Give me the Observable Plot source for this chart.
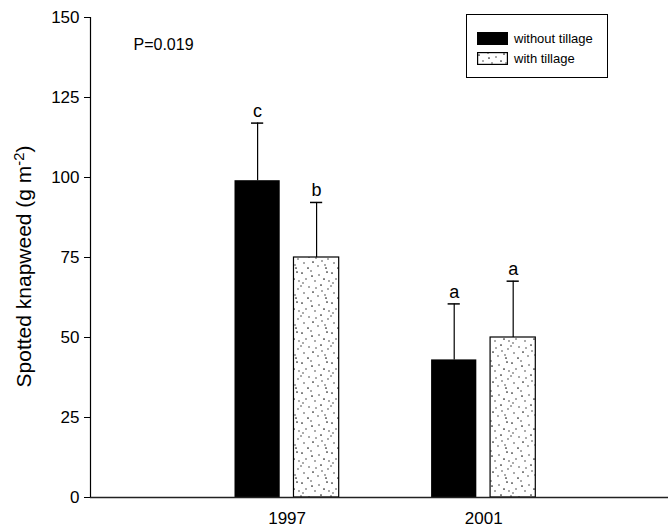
<!DOCTYPE html>
<html>
<head>
<meta charset="utf-8">
<script src="https://cdn.jsdelivr.net/npm/d3@7"></script>
<script src="https://cdn.jsdelivr.net/npm/@observablehq/plot@0.6"></script>
<style>
  body { margin: 0; background: #fff; }
  #wrap { position: relative; width: 668px; height: 527px; font-family: "Liberation Sans", Arial, sans-serif; }
  #legend { position: absolute; left: 466px; top: 14px; width: 142px; height: 64px; box-sizing: border-box;
            border: 1px solid #000; background: #fff; }
  .item { position: absolute; left: 10px; display: flex; align-items: center; font-size: 13px; color: #000; }
  .item svg { margin-right: 6px; display: block; }
</style>
</head>
<body>
<div id="wrap">
  <div id="chart"></div>
  <div id="legend"></div>
</div>
<script>
// ---- data ----
const years = ["1997", "2001"];
const treatments = ["without tillage", "with tillage"];
const meanWithout = [99, 43];
const meanWith = [75, 50];
const seWithout = [18, 17.5];
const seWith = [17.2, 17.6];
const lettersWithout = ["c", "a"];
const lettersWith = ["b", "a"];
const yTicks = [0, 25, 50, 75, 100, 125, 150];
const pLabel = "P=0.019";
const yLabel = "Spotted knapweed (g m-2)";

// ---- table ----
const rows = [];
years.forEach((yr, i) => {
  rows.push({year: yr, pos: i + 1, side: 0, treatment: treatments[0], mean: meanWithout[i], se: seWithout[i], letter: lettersWithout[i]});
  rows.push({year: yr, pos: i + 1, side: 1, treatment: treatments[1], mean: meanWith[i], se: seWith[i], letter: lettersWith[i]});
});
// layout within a group (x data units)
const outer = 0.265, inner = 0.035, cap = 0.031;
const x1 = d => d.side === 0 ? d.pos - outer : d.pos + inner;
const x2 = d => d.side === 0 ? d.pos - inner : d.pos + outer;
const xc = d => (x1(d) + x2(d)) / 2;

const plot = Plot.plot({
  width: 668,
  height: 527,
  marginLeft: 90,
  marginRight: 0,
  marginTop: 17,
  marginBottom: 30,
  style: {fontFamily: "'Liberation Sans', Arial, sans-serif", background: "#fff", color: "#000"},
  x: {domain: [0, 2.94], axis: null},
  y: {domain: [0, 150], axis: null},
  marks: [
    Plot.rectY(rows.filter(d => d.side === 0), {x1, x2, y1: 0, y2: "mean", fill: "black"}),
    Plot.rectY(rows.filter(d => d.side === 1), {x1, x2, y1: 0, y2: "mean", fill: "#fefefe", stroke: "black", strokeWidth: 1.2}),
    Plot.ruleX(rows, {x: xc, y1: "mean", y2: d => d.mean + d.se, stroke: "black", strokeWidth: 1.2}),
    Plot.ruleY(rows, {y: d => d.mean + d.se, x1: d => xc(d) - cap, x2: d => xc(d) + cap, stroke: "black", strokeWidth: 1.5}),
    Plot.text(rows, {x: xc, y: d => d.mean + d.se, text: "letter", dy: -12, fontSize: 18, fill: "black"}),
    Plot.ruleY([0], {stroke: "#222", strokeWidth: 1.6}),
    Plot.ruleX([0], {y1: 0, y2: 150, stroke: "black", strokeWidth: 1.2}),
    Plot.axisY({ticks: yTicks, tickSize: 6, tickPadding: 5, fontSize: 17, label: null}),
    Plot.axisX({ticks: years.map((y, i) => i + 1), tickFormat: v => years[v - 1], tickSize: 0, tickPadding: 14, fontSize: 17, label: null}),
    Plot.text([pLabel], {frameAnchor: "top-left", text: d => d, dx: 43, dy: 21, textAnchor: "start", fontSize: 16, fill: "black"}),
    Plot.text([yLabel], {frameAnchor: "left", text: d => d, dx: -66, dy: 9, rotate: -90, textAnchor: "middle", fontSize: 21, fill: "black"})
  ]
});

document.getElementById("chart").appendChild(plot);
const svg = d3.select(plot);

// stipple pattern (irregular dots in a larger tile)
const defs = svg.insert("defs", ":first-child");
function addPattern(defsSel, id) {
  const p = defsSel.append("pattern").attr("id", id).attr("patternUnits", "userSpaceOnUse")
    .attr("width", 30).attr("height", 30);
  p.append("rect").attr("width", 30).attr("height", 30).attr("fill", "white");
  const dots = [[2,3],[11,1],[19,5],[27,2],[6,9],[15,11],[24,9],[1,16],[9,17],[21,15],
                [28,19],[4,23],[13,22],[18,26],[25,25],[8,28],[16,18],[29,11],[12,6],[22,21],
                [3,13],[26,28]];
  dots.forEach(([cx, cy], k) => p.append("circle").attr("cx", cx).attr("cy", cy)
    .attr("r", k % 3 === 0 ? 0.85 : 0.7).attr("fill", "#1a1a1a"));
}
addPattern(defs, "stipple");
svg.selectAll("g").filter(function () { return this.getAttribute("fill") === "#fefefe"; })
  .attr("fill", "url(#stipple)")
  .selectAll("rect").attr("fill", "url(#stipple)");

// superscript in y label
const yl = svg.selectAll("text").filter(function () { return this.textContent === yLabel; });
yl.text(null);
yl.append("tspan").text("Spotted knapweed (g m");
yl.append("tspan").attr("dy", "-0.5em").attr("font-size", "0.7em").text("-2");
yl.append("tspan").attr("dy", "0.35em").text(")");

// legend
const legend = d3.select("#legend");
treatments.forEach((t, i) => {
  const item = legend.append("div").attr("class", "item").style("top", (i === 0 ? 16 : 36) + "px");
  const s = item.append("svg").attr("width", 31).attr("height", 13);
  if (i === 0) {
    s.append("rect").attr("width", 31).attr("height", 13).attr("fill", "black");
  } else {
    addPattern(s.append("defs"), "stipple-legend");
    s.append("rect").attr("x", 0.6).attr("y", 0.6).attr("width", 29.8).attr("height", 11.8)
      .attr("fill", "url(#stipple-legend)").attr("stroke", "black").attr("stroke-width", 1.2);
  }
  item.append("span").text(t);
});
</script>
</body>
</html>
